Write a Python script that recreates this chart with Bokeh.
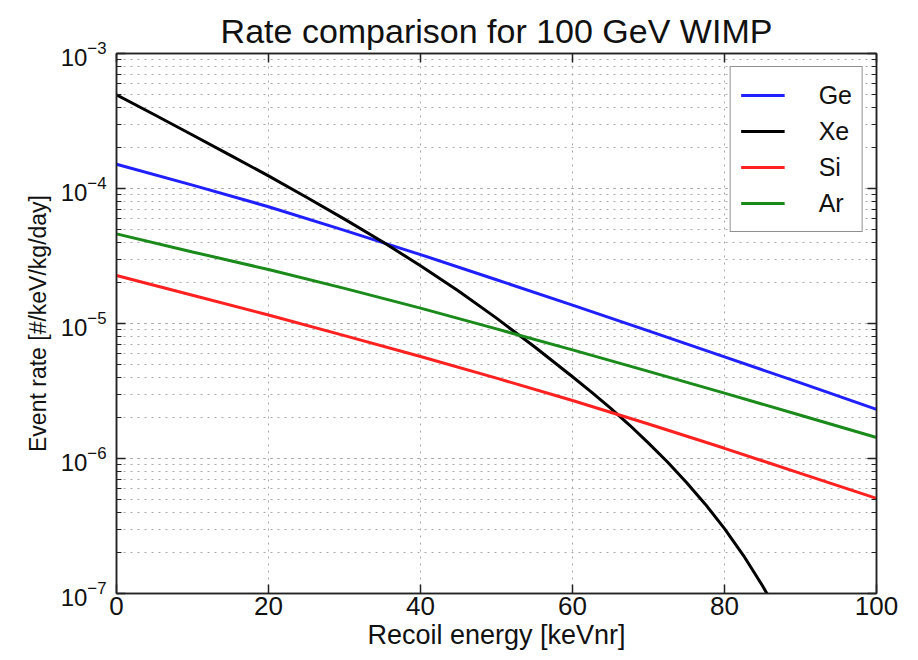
from bokeh.plotting import figure
from bokeh.models import (Range1d, LogAxis, LinearAxis, Legend, LegendItem,
                          LogTicker, FixedTicker, CustomJSTickFormatter)
from bokeh.embed import file_html
from bokeh.resources import INLINE

# ---- data ----
energy = [0, 10, 20, 30, 40, 50, 60, 70, 80, 90, 100]
ge_rate = [1.514e-4, 1.059e-4, 7.33e-5, 4.90e-5, 3.24e-5, 2.11e-5,
           1.368e-5, 8.81e-6, 5.66e-6, 3.63e-6, 2.31e-6]
ar_rate = [4.61e-5, 3.39e-5, 2.51e-5, 1.82e-5, 1.30e-5, 9.12e-6,
           6.38e-6, 4.42e-6, 3.05e-6, 2.09e-6, 1.43e-6]
si_rate = [2.27e-5, 1.62e-5, 1.156e-5, 8.13e-6, 5.69e-6, 3.94e-6,
           2.69e-6, 1.80e-6, 1.19e-6, 7.76e-7, 5.06e-7]
xe_energy = [0, 5, 10, 15, 20, 25, 30, 35, 40, 45, 50, 55, 60,
             62.5, 65, 67.5, 70, 72.5, 75, 77.5, 80, 82.5, 85, 87.5]
xe_rate = [4.94e-4, 3.52e-4, 2.49e-4, 1.76e-4, 1.24e-4, 8.61e-5, 5.93e-5,
           4.03e-5, 2.68e-5, 1.74e-5, 1.096e-5, 6.73e-6, 4.03e-6,
           3.10e-6, 2.36e-6, 1.77e-6, 1.30e-6, 9.42e-7, 6.65e-7, 4.57e-7,
           3.02e-7, 1.91e-7, 1.14e-7, 6.49e-8]

x_ticks = [0, 20, 40, 60, 80, 100]
series_names = ["Ge", "Xe", "Si", "Ar"]
series_colors = ["#1f1fff", "#000000", "#ff2020", "#1a8a1a"]

FONT = "Liberation Sans"

p = figure(frame_width=760, frame_height=540,
           y_axis_type="log",
           x_range=Range1d(0, 100), y_range=Range1d(1e-7, 1e-3),
           output_backend="svg", toolbar_location=None,
           min_border_left=116, min_border_right=34,
           min_border_top=53, min_border_bottom=60,
           title="Rate comparison for 100 GeV WIMP",
           background_fill_color="white", border_fill_color="white")

p.title.align = "center"
p.title.text_font = FONT
p.title.text_font_size = "34px"
p.title.text_font_style = "normal"
p.title.text_color = "#111111"
p.title.standoff = 8

p.outline_line_color = "#222222"
p.outline_line_width = 1.5

xticker = FixedTicker(ticks=x_ticks, minor_ticks=[])
yticker = LogTicker(desired_num_ticks=5, mantissas=[1], num_minor_ticks=10)

xa = p.xaxis[0]
xa.ticker = xticker
xa.axis_label = "Recoil energy [keVnr]"
ya = p.yaxis[0]
ya.ticker = yticker
ya.axis_label = "Event rate [#/keV/kg/day]"

for ax in (xa, ya):
    ax.axis_label_text_font = FONT
    ax.axis_label_text_font_style = "normal"
    ax.axis_label_text_color = "#111111"
    ax.major_label_text_font = FONT
    ax.major_label_text_color = "#111111"
    ax.major_tick_in = 9
    ax.major_tick_out = 0
    ax.minor_tick_in = 5
    ax.minor_tick_out = 0
    ax.axis_line_color = "#222222"
    ax.axis_line_width = 1.5
    ax.major_tick_line_color = "#222222"
    ax.minor_tick_line_color = "#222222"
    ax.major_tick_line_width = 1.5
xa.axis_label_text_font_size = "27px"
xa.major_label_text_font_size = "26px"
ya.axis_label_text_font_size = "23px"
ya.major_label_text_font_size = "24px"
xa.major_label_standoff = 3
xa.axis_label_standoff = 2
ya.major_label_standoff = 10
ya.axis_label_standoff = 7

blank = CustomJSTickFormatter(code="return '';")
ra = LogAxis(ticker=yticker, formatter=blank)
ta = LinearAxis(ticker=xticker, formatter=blank)
for ax in (ra, ta):
    ax.major_tick_in = 9
    ax.major_tick_out = 0
    ax.minor_tick_in = 5
    ax.minor_tick_out = 0
    ax.major_label_standoff = 0
    ax.axis_line_color = "#222222"
    ax.axis_line_width = 1.5
    ax.major_tick_line_color = "#222222"
    ax.minor_tick_line_color = "#222222"
    ax.major_tick_line_width = 1.5
p.add_layout(ra, "right")
p.add_layout(ta, "above")

# grids
p.xgrid.ticker = xticker
p.ygrid.ticker = yticker
for g in (p.xgrid[0], p.ygrid[0]):
    g.grid_line_color = "#a8a8a8"
    g.grid_line_dash = "2 5"
    g.grid_line_width = 1
p.ygrid.minor_grid_line_color = "#a8a8a8"
p.ygrid.minor_grid_line_dash = "2 5"
p.ygrid.minor_grid_line_width = 1

r_ge = p.line(energy, ge_rate, line_color=series_colors[0], line_width=3)
r_xe = p.line(xe_energy, xe_rate, line_color=series_colors[1], line_width=3,
              line_join="round")
r_si = p.line(energy, si_rate, line_color=series_colors[2], line_width=3)
r_ar = p.line(energy, ar_rate, line_color=series_colors[3], line_width=3)

legend = Legend(items=[LegendItem(label=series_names[0], renderers=[r_ge]),
                       LegendItem(label=series_names[1], renderers=[r_xe]),
                       LegendItem(label=series_names[2], renderers=[r_si]),
                       LegendItem(label=series_names[3], renderers=[r_ar])],
                location="top_right")
legend.margin = 13
legend.padding = 10
legend.spacing = 0
legend.label_height = 36
legend.glyph_height = 36
legend.glyph_width = 44
legend.label_standoff = 34
legend.label_text_font = FONT
legend.label_text_font_size = "25px"
legend.label_text_color = "#111111"
legend.border_line_color = "#222222"
legend.border_line_width = 1.5
legend.background_fill_color = "white"
legend.background_fill_alpha = 1.0
p.add_layout(legend)

open("out.html", "w").write(file_html(p, INLINE))
